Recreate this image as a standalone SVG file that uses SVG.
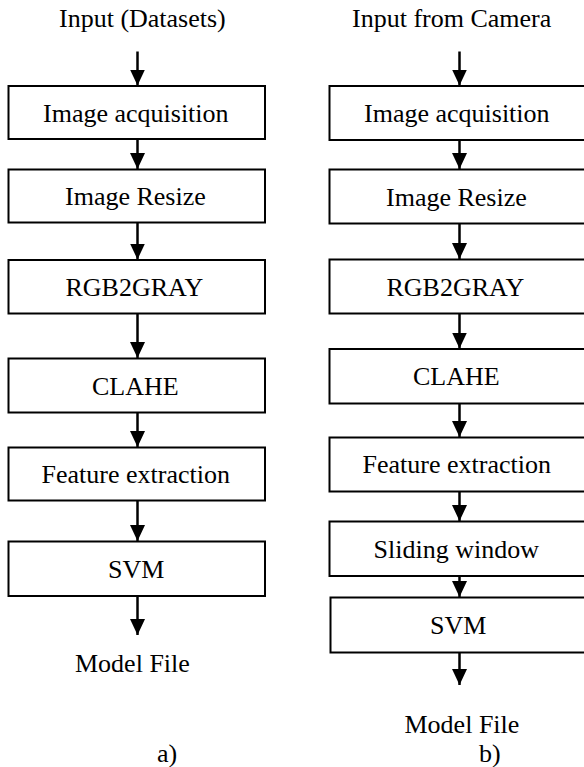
<svg xmlns="http://www.w3.org/2000/svg" width="584" height="767" viewBox="0 0 584 767">
<defs>
<marker id="ah" markerUnits="userSpaceOnUse" markerWidth="16" markerHeight="16" viewBox="0 0 16 16" refX="16" refY="8" orient="auto">
<path d="M0,0.5 L16,8 L0,15.5 z" fill="#000"/>
</marker>
</defs>
<rect width="584" height="767" fill="#fff"/>
<g id="labels">
<text font-family="Liberation Serif" font-size="26" x="59" y="27">Input (Datasets)</text>
<text font-family="Liberation Serif" font-size="26" x="75" y="672">Model File</text>
<text font-family="Liberation Serif" font-size="26" x="157" y="762">a)</text>
<text font-family="Liberation Serif" font-size="26" x="352" y="27">Input from Camera</text>
<text font-family="Liberation Serif" font-size="26" x="404.5" y="733">Model File</text>
<text font-family="Liberation Serif" font-size="26" x="479" y="762">b)</text>
</g>
<g id="a1"><rect fill="#fff" stroke="#000" stroke-width="2" x="8.5" y="86" width="256.5" height="53"/><text font-family="Liberation Serif" font-size="26" x="43" y="121.5">Image acquisition</text></g>
<g id="a2"><rect fill="#fff" stroke="#000" stroke-width="2" x="8.5" y="169.5" width="256.5" height="53"/><text font-family="Liberation Serif" font-size="26" x="65" y="205">Image Resize</text></g>
<g id="a3"><rect fill="#fff" stroke="#000" stroke-width="2" x="8.5" y="260" width="256.5" height="53.5"/><text font-family="Liberation Serif" font-size="26" x="65.5" y="295.5">RGB2GRAY</text></g>
<g id="a4"><rect fill="#fff" stroke="#000" stroke-width="2" x="8.5" y="358.5" width="256.5" height="54"/><text font-family="Liberation Serif" font-size="26" x="92" y="394.5">CLAHE</text></g>
<g id="a5"><rect fill="#fff" stroke="#000" stroke-width="2" x="8.5" y="447.5" width="256.5" height="53"/><text font-family="Liberation Serif" font-size="26" x="41.5" y="483">Feature extraction</text></g>
<g id="a6"><rect fill="#fff" stroke="#000" stroke-width="2" x="8.5" y="541.5" width="256.5" height="54.5"/><text font-family="Liberation Serif" font-size="26" x="108" y="578">SVM</text></g>
<g id="b1"><rect fill="#fff" stroke="#000" stroke-width="2" x="329.5" y="86" width="258" height="54"/><text font-family="Liberation Serif" font-size="26" x="364" y="122">Image acquisition</text></g>
<g id="b2"><rect fill="#fff" stroke="#000" stroke-width="2" x="329.5" y="169.5" width="258" height="54"/><text font-family="Liberation Serif" font-size="26" x="386" y="205.5">Image Resize</text></g>
<g id="b3"><rect fill="#fff" stroke="#000" stroke-width="2" x="329.5" y="259.5" width="258" height="54"/><text font-family="Liberation Serif" font-size="26" x="386.5" y="295.5">RGB2GRAY</text></g>
<g id="b4"><rect fill="#fff" stroke="#000" stroke-width="2" x="329.5" y="349" width="258" height="54.5"/><text font-family="Liberation Serif" font-size="26" x="413" y="385">CLAHE</text></g>
<g id="b5"><rect fill="#fff" stroke="#000" stroke-width="2" x="329.5" y="437.5" width="258" height="54"/><text font-family="Liberation Serif" font-size="26" x="362.5" y="473">Feature extraction</text></g>
<g id="b6"><rect fill="#fff" stroke="#000" stroke-width="2" x="329.5" y="521.5" width="258" height="54.5"/><text font-family="Liberation Serif" font-size="26" x="373.5" y="557.5">Sliding window</text></g>
<g id="b7"><rect fill="#fff" stroke="#000" stroke-width="2" x="330.5" y="597.5" width="258" height="55"/><text font-family="Liberation Serif" font-size="26" x="430" y="634">SVM</text></g>
<g id="connectors" stroke="#000" stroke-width="2.5" fill="none">
<line x1="137.5" y1="51.5" x2="137.5" y2="85.5" marker-end="url(#ah)"/>
<line x1="137.5" y1="139" x2="137.5" y2="169" marker-end="url(#ah)"/>
<line x1="137.5" y1="222.5" x2="137.5" y2="259.5" marker-end="url(#ah)"/>
<line x1="137.5" y1="313.5" x2="137.5" y2="358" marker-end="url(#ah)"/>
<line x1="137.5" y1="412.5" x2="137.5" y2="447" marker-end="url(#ah)"/>
<line x1="137.5" y1="500.5" x2="137.5" y2="541" marker-end="url(#ah)"/>
<line x1="137.5" y1="596" x2="137.5" y2="635" marker-end="url(#ah)"/>
<line x1="459.5" y1="51.5" x2="459.5" y2="85.5" marker-end="url(#ah)"/>
<line x1="459.5" y1="140" x2="459.5" y2="169" marker-end="url(#ah)"/>
<line x1="459.5" y1="223.5" x2="459.5" y2="259" marker-end="url(#ah)"/>
<line x1="459.5" y1="313.5" x2="459.5" y2="348.5" marker-end="url(#ah)"/>
<line x1="459.5" y1="403.5" x2="459.5" y2="437" marker-end="url(#ah)"/>
<line x1="459.5" y1="491.5" x2="459.5" y2="521" marker-end="url(#ah)"/>
<line x1="459.5" y1="576" x2="459.5" y2="597" marker-end="url(#ah)"/>
<line x1="459.5" y1="652.5" x2="459.5" y2="685" marker-end="url(#ah)"/>
</g>
</svg>
